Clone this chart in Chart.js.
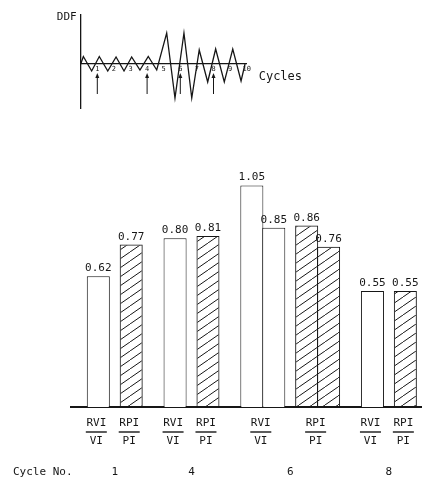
<!DOCTYPE html>
<html>
<head>
<meta charset="utf-8">
<script src="https://cdn.jsdelivr.net/npm/chart.js@4.4.0/dist/chart.umd.min.js"></script>
<style>
  html, body { margin: 0; padding: 0; background: #fff; }
  #wrap { position: relative; width: 426px; height: 482px; }
  #barras, #onda { position: absolute; left: 0; top: 0; }
</style>
</head>
<body>
<div id="wrap">
  <canvas id="barras" width="426" height="482"></canvas>
  <canvas id="onda" width="426" height="130"></canvas>
</div>
<script>
// ciclos marcados con flecha en la curva y agrupados en las barras
const cycles = ['1', '4', '6', '8'];
// RVI/VI (barras blancas) y RPI/PI (barras rayadas); el ciclo 6 tiene dos valores
const rviVi = [[0.62], [0.80], [1.05, 0.85], [0.55]];
const rpiPi = [[0.77], [0.81], [0.86, 0.76], [0.55]];
const ratioNames = [['RVI', 'VI'], ['RPI', 'PI']];

// curva DDF (vertices, eje x en ciclos)
const waveX = [0, 0.16, 0.66, 1.12, 1.63, 2.13, 2.61, 3.07, 3.57, 4.07, 4.58, 5.18, 5.68, 6.22, 6.69, 7.14, 7.65, 8.13, 8.65, 9.16, 9.66, 9.9];
const waveY = [0, 0.75, -0.7, 0.75, -0.7, 0.7, -0.7, 0.7, -0.6, 0.75, -0.6, 3.1, -3.4, 3.1, -3.4, 1.4, -1.8, 1.5, -1.8, 1.5, -1.7, 0];

const FONT = "'DejaVu Sans Mono', monospace";
const INK = '#161616';

// rayado diagonal para las barras RPI/PI
function hatchPattern() {
    const w = 13, h = 9;
    const tile = document.createElement('canvas');
    tile.width = w; tile.height = h;
    const c = tile.getContext('2d');
    c.strokeStyle = INK;
    c.lineWidth = 1;
    [[-w, h], [0, 0], [w, -h]].forEach(([dx, dy]) => {
        c.beginPath();
        c.moveTo(dx, h + dy);
        c.lineTo(w + dx, dy);
        c.stroke();
    });
    return c.createPattern(tile, 'repeat');
}

// repartir las barras en casillas de la escala de categorias
const bars = [];
const ratioMarks = [];
const cycleMarks = [];
let pos = 2;
cycles.forEach((c, g) => {
    const groupStart = pos;
    [rviVi[g], rpiPi[g]].forEach((vals, r) => {
        const first = pos;
        vals.forEach(v => {
            bars.push({ slot: pos, value: v, hatched: r === 1 });
            pos += 2;
        });
        ratioMarks.push({ slot: (first + pos - 2) / 2, names: ratioNames[r] });
        pos += 1;
    });
    cycleMarks.push({ slot: (groupStart + pos - 3) / 2, text: c });
    pos += 1;
});
const nSlots = bars[bars.length - 1].slot + 2;
const slotLabels = Array.from({ length: nSlots }, (_, i) => String(i));
const slotValues = new Array(nSlots).fill(null);
const slotFill = new Array(nSlots).fill('#fff');
const hatch = hatchPattern();
bars.forEach(b => {
    slotValues[b.slot] = b.value;
    slotFill[b.slot] = b.hatched ? hatch : '#fff';
});

const etiquetas = {
    id: 'etiquetas',
    afterDatasetsDraw(chart) {
        const ctx = chart.ctx;
        const meta = chart.getDatasetMeta(0);
        ctx.save();
        ctx.fillStyle = INK;
        ctx.font = '11px ' + FONT;
        ctx.textAlign = 'center';
        ctx.textBaseline = 'alphabetic';
        bars.forEach(b => {
            const el = meta.data[b.slot];
            ctx.fillText(b.value.toFixed(2), el.x, el.y - 5);
        });
        ctx.restore();
    },
    afterDraw(chart) {
        const ctx = chart.ctx;
        const x = chart.scales.x;
        const base = chart.chartArea.bottom;
        ctx.save();
        ctx.fillStyle = INK;
        ctx.strokeStyle = INK;
        ctx.font = '11px ' + FONT;
        ctx.textAlign = 'center';
        ctx.textBaseline = 'middle';
        ratioMarks.forEach(m => {
            const px = x.getPixelForValue(m.slot) - 2;
            ctx.fillText(m.names[0], px, base + 16);
            ctx.lineWidth = 1.4;
            ctx.beginPath();
            ctx.moveTo(px - 10.5, base + 25);
            ctx.lineTo(px + 10.5, base + 25);
            ctx.stroke();
            ctx.fillText(m.names[1], px, base + 34);
        });
        ctx.textAlign = 'left';
        ctx.fillText('Cycle No.', 13, base + 65);
        ctx.textAlign = 'center';
        cycleMarks.forEach(m => {
            ctx.fillText(m.text, x.getPixelForValue(m.slot), base + 65);
        });
        ctx.restore();
    }
};

new Chart(document.getElementById('barras'), {
    type: 'bar',
    data: {
        labels: slotLabels,
        datasets: [{
            data: slotValues,
            backgroundColor: slotFill,
            borderColor: INK,
            borderWidth: 1,
            borderSkipped: 'start',
            barPercentage: 2.1,
            categoryPercentage: 1
        }]
    },
    options: {
        responsive: false,
        animation: false,
        layout: { padding: { left: 70.9, right: 4.2, top: 153.8, bottom: 75 } },
        scales: {
            x: {
                ticks: { display: false },
                grid: { display: false, drawTicks: false },
                border: { display: true, color: INK, width: 2 },
                afterFit: s => { s.height = 0; }
            },
            y: {
                display: false,
                min: 0,
                max: 1.2
            }
        },
        plugins: {
            legend: { display: false },
            tooltip: { enabled: false }
        }
    },
    plugins: [etiquetas]
});

// curva DDF con flechas en los ciclos estudiados
const flechas = {
    id: 'flechas',
    afterDraw(chart) {
        const ctx = chart.ctx;
        const { x, y } = chart.scales;
        const area = chart.chartArea;
        ctx.save();
        ctx.strokeStyle = INK;
        ctx.fillStyle = INK;
        ctx.lineWidth = 1;
        cycles.forEach(c => {
            const px = x.getPixelForValue(Number(c));
            const tip = y.getPixelForValue(-0.9);
            const tail = y.getPixelForValue(-3.0);
            ctx.beginPath();
            ctx.moveTo(px, tail);
            ctx.lineTo(px, tip + 4);
            ctx.stroke();
            ctx.beginPath();
            ctx.moveTo(px, tip);
            ctx.lineTo(px - 2, tip + 5);
            ctx.lineTo(px + 2, tip + 5);
            ctx.closePath();
            ctx.fill();
        });
        ctx.font = '11px ' + FONT;
        ctx.textAlign = 'right';
        ctx.textBaseline = 'middle';
        ctx.fillText('DDF', area.left - 4, area.top + 2);
        ctx.font = '12px ' + FONT;
        ctx.textAlign = 'left';
        ctx.fillText('Cycles', area.right + 12, y.getPixelForValue(0) + 13);
        ctx.restore();
    }
};

new Chart(document.getElementById('onda'), {
    type: 'line',
    data: {
        datasets: [{
            data: waveX.map((v, i) => ({ x: v, y: waveY[i] })),
            borderColor: INK,
            borderWidth: 1.3,
            pointRadius: 0,
            tension: 0,
            fill: false
        }]
    },
    options: {
        responsive: false,
        animation: false,
        layout: { padding: { left: 80.7, right: 179.3, top: 15, bottom: 22 } },
        scales: {
            x: {
                type: 'linear',
                min: 0,
                max: 10,
                position: { y: 0 },
                ticks: {
                    stepSize: 1,
                    padding: 1,
                    color: INK,
                    font: { size: 7, family: FONT },
                    callback: v => (v === 0 ? '' : v)
                },
                grid: { display: false, drawTicks: false },
                border: { display: true, color: INK, width: 1.3 },
                afterFit: s => { s.height = 0; }
            },
            y: {
                min: -4.4,
                max: 4.9,
                ticks: { display: false },
                grid: { display: false, drawTicks: false },
                border: { display: true, color: INK, width: 1.3 },
                afterFit: s => { s.width = 0; }
            }
        },
        plugins: {
            legend: { display: false },
            tooltip: { enabled: false }
        }
    },
    plugins: [flechas]
});
</script>
</body>
</html>
